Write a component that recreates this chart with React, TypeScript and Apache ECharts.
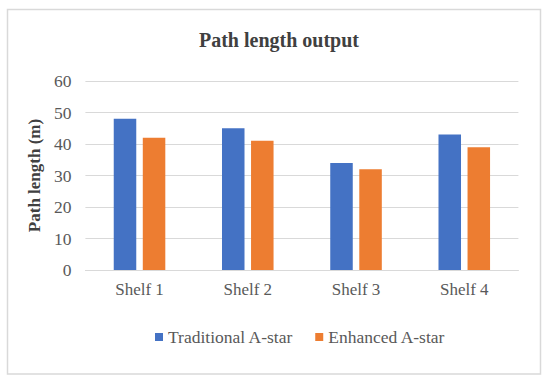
import React, { useEffect, useRef } from "react";
import * as echarts from "echarts";

const categories = ["Shelf 1", "Shelf 2", "Shelf 3", "Shelf 4"];
const traditional = [48, 45, 34, 43];
const enhanced = [42, 41, 32, 39];
const seriesNames = ["Traditional A-star", "Enhanced A-star"];
const titleText = "Path length output";
const yAxisName = "Path length (m)";

const FONT = "'Liberation Serif', 'Times New Roman', serif";

export default function App() {
  const ref = useRef<HTMLDivElement>(null);
  useEffect(() => {
    if (!ref.current) return;
    const chart = echarts.init(ref.current, undefined, { renderer: "svg" });
    chart.setOption({
      animation: false,
      backgroundColor: "#ffffff",
      textStyle: { fontFamily: FONT },
      title: {
        text: titleText,
        left: 274,
        textAlign: "center",
        top: 25,
        textStyle: { fontFamily: FONT, fontSize: 20, fontWeight: "bold", color: "#404040" },
      },
      graphic: [
        {
          type: "rect",
          shape: { x: 7.5, y: 9.5, width: 533, height: 364.5 },
          style: { fill: "none", stroke: "#d9d9d9", lineWidth: 1.5 },
          silent: true,
        },
      ],
      legend: {
        data: seriesNames,
        left: 150,
        top: 323,
        itemWidth: 8,
        itemHeight: 8,
        itemGap: 22,
        icon: "rect",
        textStyle: { fontFamily: FONT, fontSize: 17.5, color: "#595959" },
      },
      grid: { left: 85.4, right: 31.6, top: 81, bottom: 115 },
      xAxis: {
        type: "category",
        data: categories,
        axisLine: { lineStyle: { color: "#d9d9d9", width: 1 } },
        axisTick: { show: false },
        axisLabel: { fontFamily: FONT, fontSize: 17, color: "#595959", margin: 11 },
      },
      yAxis: {
        type: "value",
        min: 0,
        max: 60,
        interval: 10,
        name: yAxisName,
        nameLocation: "middle",
        nameGap: 41,
        nameTextStyle: { fontFamily: FONT, fontSize: 17, fontWeight: "bold", color: "#404040" },
        axisLine: { show: false },
        axisTick: { show: false },
        splitLine: { lineStyle: { color: "#d9d9d9", width: 1 } },
        axisLabel: { fontFamily: FONT, fontSize: 17.5, color: "#595959", margin: 14 },
      },
      series: [
        {
          name: seriesNames[0],
          type: "bar",
          data: traditional,
          barWidth: "20.8%",
          barGap: "29%",
          itemStyle: { color: "#4472C4" },
        },
        {
          name: seriesNames[1],
          type: "bar",
          data: enhanced,
          barWidth: "20.8%",
          itemStyle: { color: "#ED7D31" },
        },
      ],
    });
    return () => chart.dispose();
  }, []);
  return (
    <div
      ref={ref}
      style={{ position: "fixed", left: 0, top: 0, width: 550, height: 385 }}
    />
  );
}
